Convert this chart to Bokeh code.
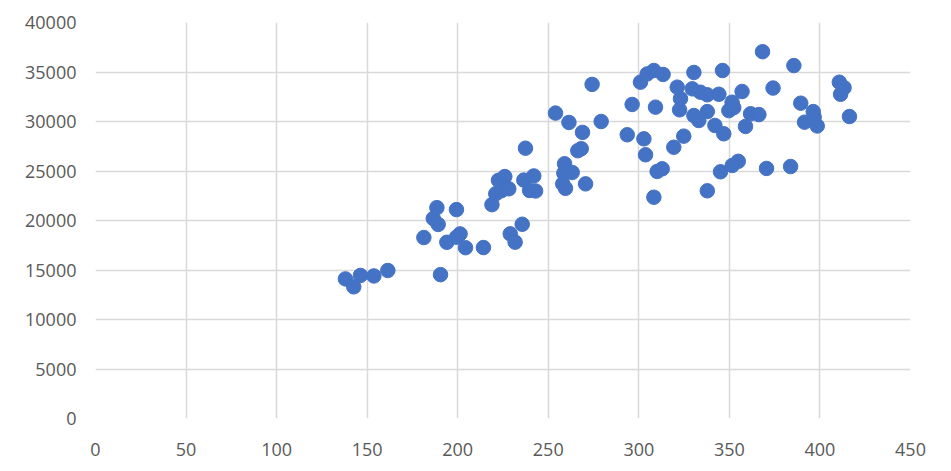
from bokeh.plotting import figure
from bokeh.models import Range1d, FixedTicker, ColumnDataSource
from bokeh.embed import file_html
from bokeh.resources import INLINE

x_vals = [138, 142.6, 146.3, 153.7, 161.4, 190.5, 181.3, 186.5, 188.5, 189.2,
          194, 199.3, 201.3, 199.3, 204.3, 214.2, 218.9, 221, 224, 222.5,
          226, 228.2, 229, 231.7, 235.6, 236.5, 237.4, 242, 239.7, 243,
          254, 258.6, 259, 258, 259.5, 261.4, 263.2, 266.3, 268.2, 268.9,
          270.6, 274.2, 279.2, 293.6, 296.3, 300.9, 302.8, 303.7, 304.6, 308.3,
          308.3, 309.2, 310.1, 312.9, 313.4, 319.3, 321.2, 322.5, 323, 324.8,
          329.5, 330.4, 330.4, 333.1, 334, 337.8, 337.8, 337.8, 342, 344.2,
          345.1, 346.2, 346.9, 349.7, 351.5, 352.4, 351.6, 354.9, 357, 358.9,
          361.7, 366.3, 368.3, 370.5, 374.1, 383.8, 385.6, 389.4, 391.5, 396.3,
          396.8, 398.5, 410.7, 413.3, 411.4, 416.3]
y_vals = [14100, 13300, 14450, 14400, 14950, 14530, 18280, 20200, 21300, 19600,
          17800, 18310, 18650, 21100, 17250, 17270, 21600, 22700, 23000, 24060,
          24440, 23200, 18650, 17810, 19620, 24080, 27300, 24500, 23030, 22980,
          30850, 24780, 25730, 23700, 23250, 29900, 24850, 27050, 27250, 28900,
          23700, 33750, 30000, 28660, 31720, 33970, 28250, 26640, 34800, 35150,
          22350, 31450, 24950, 25220, 34750, 27400, 33470, 31180, 32300, 28520,
          33300, 34950, 30600, 30100, 32960, 32700, 31000, 23000, 29600, 32750,
          24920, 35150, 28760, 31100, 31950, 31400, 25560, 25980, 33030, 29500,
          30780, 30700, 37050, 25260, 33380, 25450, 35650, 31850, 29930, 31000,
          30450, 29550, 33970, 33420, 32750, 30500]

x_ticks = [0, 50, 100, 150, 200, 250, 300, 350, 400, 450]
y_ticks = [0, 5000, 10000, 15000, 20000, 25000, 30000, 35000, 40000]

src = ColumnDataSource(data=dict(x=x_vals, y=y_vals))

p = figure(width=935, height=463, output_backend="svg", toolbar_location=None,
           x_range=Range1d(0, 450), y_range=Range1d(0, 40000),
           min_border_left=95, min_border_right=25, min_border_top=22, min_border_bottom=45)
p.outline_line_color = None
p.background_fill_color = "white"
p.border_fill_color = "white"

p.scatter("x", "y", source=src, size=14.5, fill_color="#4472C4", line_color="#4472C4")

for ax, ticks in ((p.xaxis[0], x_ticks), (p.yaxis[0], y_ticks)):
    ax.ticker = FixedTicker(ticks=ticks)
    ax.axis_line_color = None
    ax.major_tick_line_color = None
    ax.minor_tick_line_color = None
    ax.major_tick_out = 0
    ax.major_tick_in = 0
    ax.major_label_text_font = "Open Sans"
    ax.major_label_text_font_size = "18px"
    ax.major_label_text_color = "#595959"

p.xaxis[0].major_label_standoff = 24
p.yaxis[0].major_label_standoff = 19

p.xgrid.ticker = FixedTicker(ticks=x_ticks)
p.ygrid.ticker = FixedTicker(ticks=y_ticks)
p.grid.grid_line_color = "#D9D9D9"
p.grid.grid_line_width = 1.5

open("out.html", "w").write(file_html(p, INLINE))
